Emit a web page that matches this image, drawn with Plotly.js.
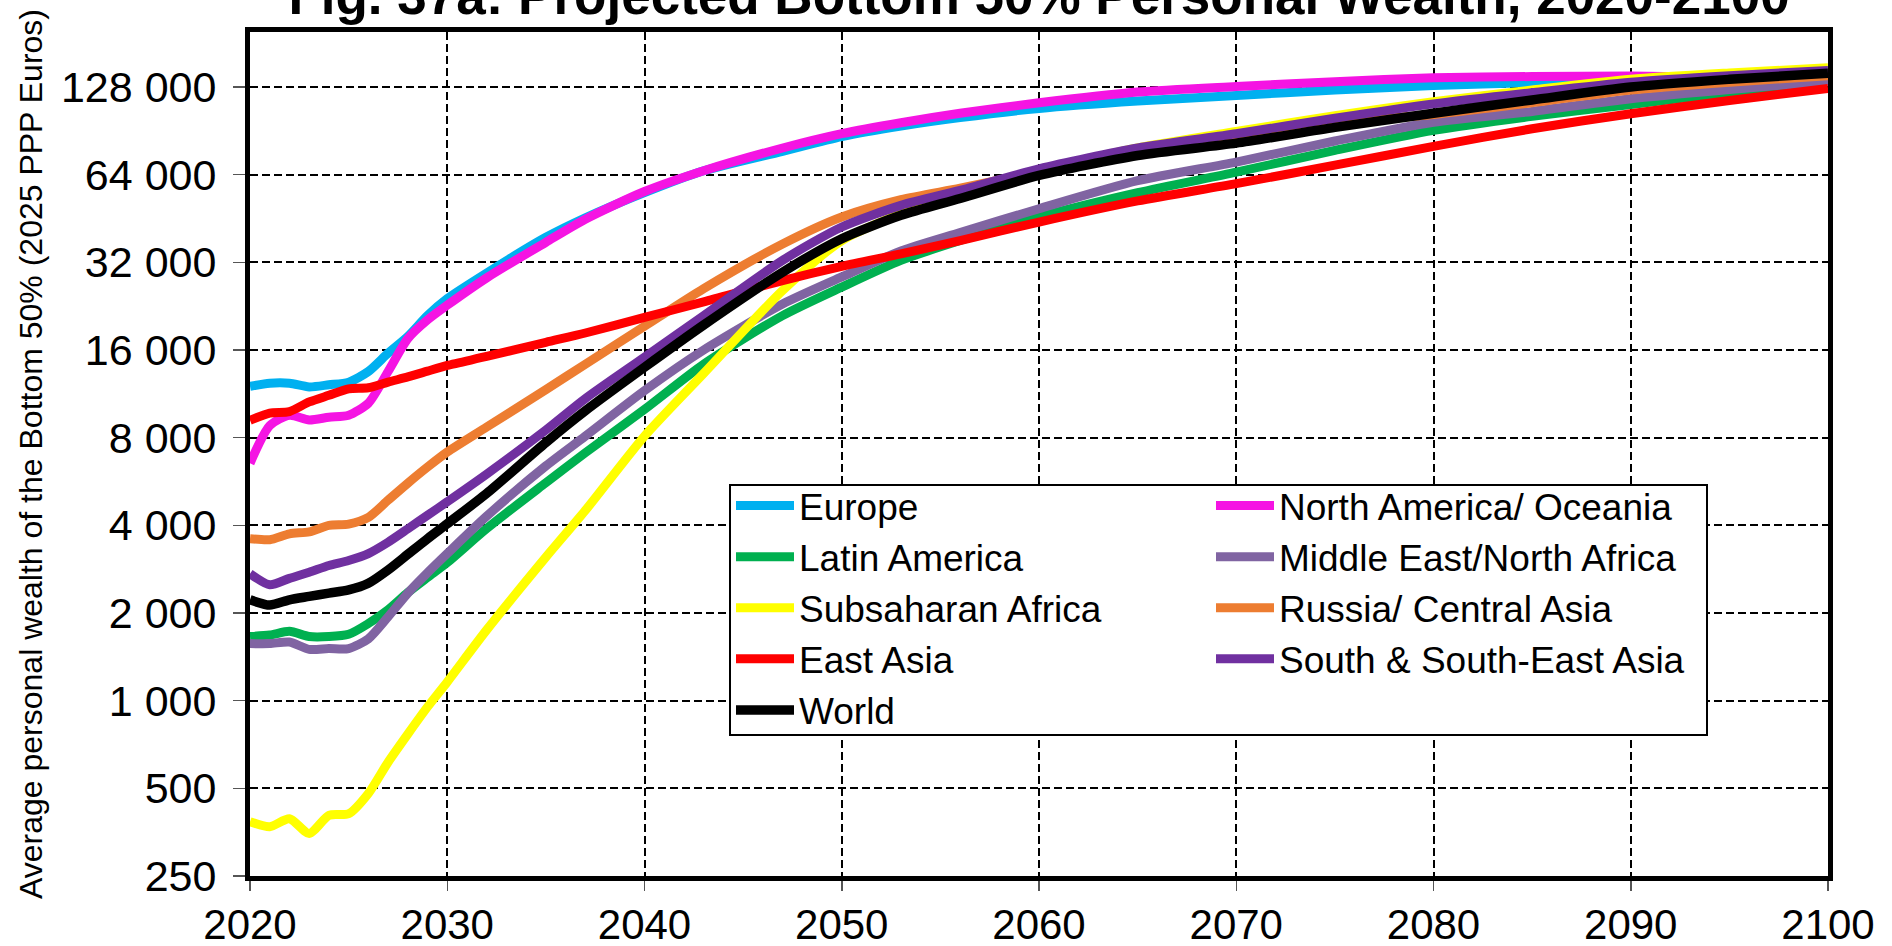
<!DOCTYPE html>
<html>
<head>
<meta charset="utf-8">
<script src="https://cdn.plot.ly/plotly-3.0.1.min.js"></script>
<style>html,body{margin:0;padding:0;background:#fff;}#chart{width:1892px;height:946px;}</style>
</head>
<body>
<div id="chart"></div>
<script>
// ---- Data ----
const years = [2020,2021,2022,2023,2024,2025,2026,2027,2028,2029,2030,2032,2035,2037,2040,2043,2047,2050,2053,2056,2060,2065,2070,2075,2080,2085,2090,2095,2100];

const europe      = [12000,12300,12300,11950,12150,12400,13500,15600,17800,21000,24000,29400,39000,45500,55500,66000,77000,86500,94000,100500,108000,114500,119700,125000,129500,132500,135000,137000,138500];
const northAmerica= [6530,8800,9550,9200,9400,9550,10500,13500,17500,20300,22800,28300,37500,45000,56000,66000,79000,88500,96500,104000,113000,123000,128500,133500,137600,139000,139500,137500,134500];
const latinAmerica= [1660,1680,1730,1660,1660,1690,1840,2050,2350,2650,2980,3900,5600,7100,10000,14300,21000,26300,32500,38000,45800,55500,65300,77500,90800,101500,111500,122500,134500];
const mena        = [1570,1570,1590,1500,1510,1510,1630,1940,2340,2750,3200,4300,6400,8100,11600,16000,23000,28500,35000,40500,48900,61000,70700,83500,96900,105500,116700,125500,134000];
const subsaharan  = [384,369,393,350,404,409,480,615,768,952,1160,1750,3110,4500,8100,13300,25600,38000,47000,56000,66000,79000,90000,102000,114000,125000,136000,143000,149000];
const russia      = [3600,3570,3740,3800,4000,4040,4260,4880,5580,6340,7140,8700,11700,14300,19300,26000,37000,45800,52500,57500,65500,76000,87000,96500,103000,113000,125000,133000,140000];
const eastAsia    = [9180,9720,9830,10610,11180,11770,11870,12410,12930,13540,14160,15200,17000,18300,20700,23400,27700,31000,34200,38000,44000,52000,59600,69000,80000,92000,103600,115000,126500];
const southAsia   = [2730,2500,2630,2760,2910,3030,3200,3500,3890,4330,4820,6000,8500,10900,15130,21000,32500,42300,50200,56500,67000,79000,88400,100000,112000,122500,133000,140000,145800];
const world       = [2220,2130,2220,2280,2340,2400,2530,2810,3180,3600,4050,5150,7700,9900,13960,19500,29600,38570,46400,53000,63600,74500,82100,93000,104000,115500,128000,136000,142700];

const seriesNames = ["Europe","North America/ Oceania","Latin America","Middle East/North Africa","Subsaharan Africa","Russia/ Central Asia","East Asia","South & South-East Asia","World"];
const seriesValues = [europe,northAmerica,latinAmerica,mena,subsaharan,russia,eastAsia,southAsia,world];
const seriesColors = ["#00B0F0","#F514E3","#00B050","#8064A2","#FFFF00","#ED7D31","#FF0000","#7030A0","#000000"];
const seriesLegend = ["legend","legend2","legend","legend2","legend","legend2","legend","legend2","legend"];

const yTickVals = [250,500,1000,2000,4000,8000,16000,32000,64000,128000];
const yTickText = ["250","500","1 000","2 000","4 000","8 000","16 000","32 000","64 000","128 000"];
const xTickVals = [2020,2030,2040,2050,2060,2070,2080,2090,2100];

// ---- Chart ----
const FONT = "Liberation Sans, Arial, sans-serif";
const traces = seriesNames.map((name, i) => ({
  type: "scatter",
  mode: "lines",
  name: name,
  x: years,
  y: seriesValues[i],
  legend: seriesLegend[i],
  line: {color: seriesColors[i], width: i === 8 ? 9.5 : 9, shape: "spline", smoothing: 0.7},
  hoverinfo: "skip"
}));

const W = 1892, H = 946;
const L = 250, R = 64, T = 32, B = 70;
const pw = W - L - R, ph = H - T - B;
const px = v => (v - L) / pw;
const py = v => (H - B - v) / ph;

const layout = {
  width: W, height: H,
  margin: {l: L, r: R, t: T, b: B},
  paper_bgcolor: "#ffffff",
  plot_bgcolor: "#ffffff",
  font: {family: FONT, color: "#000"},
  showlegend: true,
  title: {
    text: "Fig. 37a: Projected Bottom 50% Personal Wealth, 2020-2100",
    font: {family: FONT, size: 53, color: "#000", weight: "bold"},
    xref: "paper", x: 0.5, xanchor: "center",
    yref: "container", y: 1 - 14 / H, yanchor: "bottom"
  },
  xaxis: {
    range: [2020, 2100],
    tickvals: xTickVals,
    ticktext: xTickVals.map(String),
    tickfont: {family: FONT, size: 42, color: "#000"},
    ticks: "outside", ticklen: 10, tickwidth: 1.5, tickcolor: "#555",
    ticklabelstandoff: -2,
    showgrid: true, gridcolor: "#000", gridwidth: 2, griddash: "8px,4px",
    showline: true, linecolor: "#000", linewidth: 5, mirror: true,
    zeroline: false, automargin: false, fixedrange: true
  },
  yaxis: {
    type: "log",
    range: [Math.log10(250), Math.log10(197700)],
    tickvals: yTickVals,
    ticktext: yTickText,
    tickfont: {family: FONT, size: 43, color: "#000"},
    ticks: "outside", ticklen: 12, tickwidth: 1.5, tickcolor: "#555",
    ticklabelstandoff: 8,
    showgrid: true, gridcolor: "#000", gridwidth: 2, griddash: "8px,4px",
    showline: true, linecolor: "#000", linewidth: 5, mirror: true,
    zeroline: false, automargin: false, fixedrange: true,
    title: {
      text: "Average personal wealth of the Bottom 50% (2025 PPP Euros)",
      font: {family: FONT, size: 32, color: "#000"},
      standoff: 10
    }
  },
  legend: {
    x: px(731), y: py(475), xanchor: "left", yanchor: "top",
    bgcolor: "rgba(0,0,0,0)", borderwidth: 0,
    font: {family: FONT, size: 37, color: "#000"},
    itemwidth: 58, tracegroupgap: 0, traceorder: "normal"
  },
  legend2: {
    x: px(1211), y: py(475), xanchor: "left", yanchor: "top",
    bgcolor: "rgba(0,0,0,0)", borderwidth: 0,
    font: {family: FONT, size: 37, color: "#000"},
    itemwidth: 58, tracegroupgap: 0, traceorder: "normal"
  },
  shapes: [{
    type: "rect", xref: "paper", yref: "paper",
    x0: px(730), x1: px(1707), y0: py(735), y1: py(485),
    fillcolor: "#ffffff", line: {color: "#000", width: 2}, layer: "above"
  }]
};

Plotly.newPlot("chart", traces, layout, {displayModeBar: false, staticPlot: true});
</script>
</body>
</html>
